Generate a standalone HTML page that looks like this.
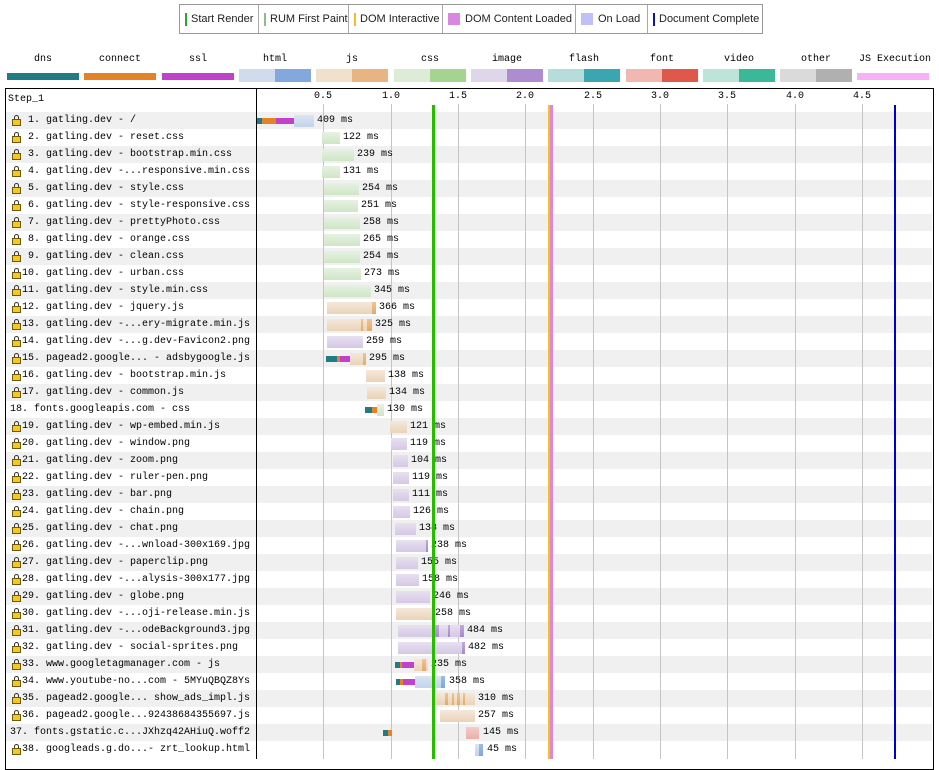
<!DOCTYPE html>
<html><head><meta charset="utf-8">
<style>
body{margin:0;width:939px;height:759px;background:#fff;position:relative;overflow:hidden;font-family:"Liberation Mono",monospace;font-size:10px;color:#000}
.abs{position:absolute}
.lg{position:absolute;top:4px;height:28px;border:1px solid #999;display:flex;font-family:"Liberation Sans",Arial,sans-serif;font-size:11px;color:#222}
.lg div{border-right:1px solid #aaa;padding:0 5px;line-height:28px;white-space:nowrap;display:flex;align-items:center;flex-shrink:0;box-sizing:border-box}
.lg div:last-child{border-right:none}
.mk{display:inline-block;width:2px;height:13px;margin-right:4px;flex-shrink:0}
.sq{display:inline-block;width:12px;height:12px;margin-right:5px;flex-shrink:0}
.tl{position:absolute;top:54px;width:72px;text-align:center}
.tb{position:absolute;top:69px;width:72px;height:13px}
.tbt{position:absolute;top:73px;width:72px;height:7px}
.row{position:absolute;left:6px;width:926px;height:17px}
.sh{background:#f0f0f0}
.nm{position:absolute;left:16px;top:0;line-height:17px;white-space:pre}
.nl{position:absolute;left:4px;top:0;line-height:17px;white-space:pre}
.lk{position:absolute;left:6px;top:3px;width:9px;height:10px}
.lk:before{content:"";position:absolute;left:2px;top:0;width:3px;height:4px;border:1.3px solid #333;border-bottom:none;border-radius:3px 3px 0 0}
.lk:after{content:"";position:absolute;left:0;top:4px;width:7px;height:5px;background:#f7c81c;border:1px solid #6a5a10}
.b{position:absolute;top:3px;height:12px}
.c{position:absolute;top:6px;height:6px}
.ms{position:absolute;top:0;line-height:17px;white-space:pre}
.dns{background:#1f7c83}.con{background:#e58226}.ssl{background:#c141cd}
.html{background:linear-gradient(#dbe5f2,#c3d3ea)}.htmld{background:linear-gradient(#9dbce8,#7ea6dc)}
.js{background:linear-gradient(#f5e8da,#ead3b8)}.jsd{background:linear-gradient(#f0c494,#e4a967)}
.css{background:linear-gradient(#e6f2e2,#cfe6c6)}.cssd{background:linear-gradient(#b8e0a8,#9acd84)}
.img{background:linear-gradient(#e8e0f0,#d5c8e6)}.imgd{background:linear-gradient(#c3a8dc,#a987cc)}
.fnt{background:linear-gradient(#f6cbc6,#eab0aa)}.fntd{background:linear-gradient(#ef7e70,#dc5040)}
.g{position:absolute;top:104px;width:1px;height:655px;background:#c4c4c4}
.tk{position:absolute;top:91px;width:40px;text-align:center;line-height:12px}
</style></head><body>

<div class="lg" style="left:179px;width:582px">
<div style="width:79px"><span class="mk" style="background:#28a828"></span>Start Render</div>
<div style="width:90px"><span class="mk" style="background:#88c088"></span>RUM First Paint</div>
<div style="width:94px"><span class="mk" style="background:#f0c020"></span>DOM Interactive</div>
<div style="width:133px"><span class="sq" style="background:#d888df"></span>DOM Content Loaded</div>
<div style="width:72px"><span class="sq" style="background:#c0c0f6"></span>On Load</div>
<div style="width:112px"><span class="mk" style="background:#1010b0"></span>Document Complete</div>
</div>

<div class="tl" style="left:7px">dns</div><div class="tbt dns" style="left:7px"></div>
<div class="tl" style="left:84px">connect</div><div class="tbt con" style="left:84px"></div>
<div class="tl" style="left:162px">ssl</div><div class="tbt ssl" style="left:162px"></div>
<div class="tl" style="left:239px">html</div><div class="tb" style="left:239px;background:linear-gradient(to right,#d0dcee 50%,#82a8de 50%)"></div>
<div class="tl" style="left:316px">js</div><div class="tb" style="left:316px;background:linear-gradient(to right,#f0e0cc 50%,#e8b482 50%)"></div>
<div class="tl" style="left:394px">css</div><div class="tb" style="left:394px;background:linear-gradient(to right,#dcecd6 50%,#a4d48f 50%)"></div>
<div class="tl" style="left:471px">image</div><div class="tb" style="left:471px;background:linear-gradient(to right,#e0d6ec 50%,#ad8ccf 50%)"></div>
<div class="tl" style="left:548px">flash</div><div class="tb" style="left:548px;background:linear-gradient(to right,#b6dcdc 50%,#3aa6b2 50%)"></div>
<div class="tl" style="left:626px">font</div><div class="tb" style="left:626px;background:linear-gradient(to right,#f0b8b0 50%,#e0584a 50%)"></div>
<div class="tl" style="left:703px">video</div><div class="tb" style="left:703px;background:linear-gradient(to right,#bce4d8 50%,#3ab898 50%)"></div>
<div class="tl" style="left:780px">other</div><div class="tb" style="left:780px;background:linear-gradient(to right,#dadada 50%,#b0b0b0 50%)"></div>
<div class="tl" style="left:857px;width:76px">JS Execution</div><div class="tbt" style="left:857px;background:#f8b0f6"></div>

<!-- table frame -->
<div class="abs" style="left:5px;top:88px;width:927px;height:680px;border:1px solid #000"></div>

<!-- rows -->
<div class="row sh" style="top:112px"><i class="lk"></i><span class="nm"> 1. gatling.dev - /</span></div>
<div class="row" style="top:129px"><i class="lk"></i><span class="nm"> 2. gatling.dev - reset.css</span></div>
<div class="row sh" style="top:146px"><i class="lk"></i><span class="nm"> 3. gatling.dev - bootstrap.min.css</span></div>
<div class="row" style="top:163px"><i class="lk"></i><span class="nm"> 4. gatling.dev -...responsive.min.css</span></div>
<div class="row sh" style="top:180px"><i class="lk"></i><span class="nm"> 5. gatling.dev - style.css</span></div>
<div class="row" style="top:197px"><i class="lk"></i><span class="nm"> 6. gatling.dev - style-responsive.css</span></div>
<div class="row sh" style="top:214px"><i class="lk"></i><span class="nm"> 7. gatling.dev - prettyPhoto.css</span></div>
<div class="row" style="top:231px"><i class="lk"></i><span class="nm"> 8. gatling.dev - orange.css</span></div>
<div class="row sh" style="top:248px"><i class="lk"></i><span class="nm"> 9. gatling.dev - clean.css</span></div>
<div class="row" style="top:265px"><i class="lk"></i><span class="nm">10. gatling.dev - urban.css</span></div>
<div class="row sh" style="top:282px"><i class="lk"></i><span class="nm">11. gatling.dev - style.min.css</span></div>
<div class="row" style="top:299px"><i class="lk"></i><span class="nm">12. gatling.dev - jquery.js</span></div>
<div class="row sh" style="top:316px"><i class="lk"></i><span class="nm">13. gatling.dev -...ery-migrate.min.js</span></div>
<div class="row" style="top:333px"><i class="lk"></i><span class="nm">14. gatling.dev -...g.dev-Favicon2.png</span></div>
<div class="row sh" style="top:350px"><i class="lk"></i><span class="nm">15. pagead2.google... - adsbygoogle.js</span></div>
<div class="row" style="top:367px"><i class="lk"></i><span class="nm">16. gatling.dev - bootstrap.min.js</span></div>
<div class="row sh" style="top:384px"><i class="lk"></i><span class="nm">17. gatling.dev - common.js</span></div>
<div class="row" style="top:401px"><span class="nl">18. fonts.googleapis.com - css</span></div>
<div class="row sh" style="top:418px"><i class="lk"></i><span class="nm">19. gatling.dev - wp-embed.min.js</span></div>
<div class="row" style="top:435px"><i class="lk"></i><span class="nm">20. gatling.dev - window.png</span></div>
<div class="row sh" style="top:452px"><i class="lk"></i><span class="nm">21. gatling.dev - zoom.png</span></div>
<div class="row" style="top:469px"><i class="lk"></i><span class="nm">22. gatling.dev - ruler-pen.png</span></div>
<div class="row sh" style="top:486px"><i class="lk"></i><span class="nm">23. gatling.dev - bar.png</span></div>
<div class="row" style="top:503px"><i class="lk"></i><span class="nm">24. gatling.dev - chain.png</span></div>
<div class="row sh" style="top:520px"><i class="lk"></i><span class="nm">25. gatling.dev - chat.png</span></div>
<div class="row" style="top:537px"><i class="lk"></i><span class="nm">26. gatling.dev -...wnload-300x169.jpg</span></div>
<div class="row sh" style="top:554px"><i class="lk"></i><span class="nm">27. gatling.dev - paperclip.png</span></div>
<div class="row" style="top:571px"><i class="lk"></i><span class="nm">28. gatling.dev -...alysis-300x177.jpg</span></div>
<div class="row sh" style="top:588px"><i class="lk"></i><span class="nm">29. gatling.dev - globe.png</span></div>
<div class="row" style="top:605px"><i class="lk"></i><span class="nm">30. gatling.dev -...oji-release.min.js</span></div>
<div class="row sh" style="top:622px"><i class="lk"></i><span class="nm">31. gatling.dev -...odeBackground3.jpg</span></div>
<div class="row" style="top:639px"><i class="lk"></i><span class="nm">32. gatling.dev - social-sprites.png</span></div>
<div class="row sh" style="top:656px"><i class="lk"></i><span class="nm">33. www.googletagmanager.com - js</span></div>
<div class="row" style="top:673px"><i class="lk"></i><span class="nm">34. www.youtube-no...com - 5MYuQBQZ8Ys</span></div>
<div class="row sh" style="top:690px"><i class="lk"></i><span class="nm">35. pagead2.google... show_ads_impl.js</span></div>
<div class="row" style="top:707px"><i class="lk"></i><span class="nm">36. pagead2.google...92438684355697.js</span></div>
<div class="row sh" style="top:724px"><span class="nl">37. fonts.gstatic.c...JXhzq42AHiuQ.woff2</span></div>
<div class="row" style="top:741px"><i class="lk"></i><span class="nm">38. googleads.g.do...- zrt_lookup.html</span></div>

<!-- divider -->
<div class="abs" style="left:256px;top:88px;width:1px;height:671px;background:#000"></div>
<div class="abs" style="left:8px;top:94px;line-height:12px">Step_1</div>

<!-- grid -->
<div class="g" style="left:323px"></div><div class="tk" style="left:303px">0.5</div>
<div class="g" style="left:391px"></div><div class="tk" style="left:371px">1.0</div>
<div class="g" style="left:458px"></div><div class="tk" style="left:438px">1.5</div>
<div class="g" style="left:525px"></div><div class="tk" style="left:505px">2.0</div>
<div class="g" style="left:593px"></div><div class="tk" style="left:573px">2.5</div>
<div class="g" style="left:660px"></div><div class="tk" style="left:640px">3.0</div>
<div class="g" style="left:727px"></div><div class="tk" style="left:707px">3.5</div>
<div class="g" style="left:795px"></div><div class="tk" style="left:775px">4.0</div>
<div class="g" style="left:862px"></div><div class="tk" style="left:842px">4.5</div>

<!-- bars (absolute coords) -->
<div class="abs" style="left:0;top:0">
<i class="c dns" style="left:257px;top:118px;width:5px"></i><i class="c con" style="left:262px;top:118px;width:14px"></i><i class="c ssl" style="left:276px;top:118px;width:18px"></i><i class="b html" style="left:294px;top:115px;width:20px"></i><span class="ms" style="left:317px;top:112px">409 ms</span>
<i class="b css" style="left:322px;top:132px;width:18px"></i><span class="ms" style="left:343px;top:129px">122 ms</span>
<i class="b css" style="left:322px;top:149px;width:32px"></i><span class="ms" style="left:357px;top:146px">239 ms</span>
<i class="b css" style="left:322px;top:166px;width:18px"></i><span class="ms" style="left:343px;top:163px">131 ms</span>
<i class="b css" style="left:324px;top:183px;width:35px"></i><span class="ms" style="left:362px;top:180px">254 ms</span>
<i class="b css" style="left:324px;top:200px;width:34px"></i><span class="ms" style="left:361px;top:197px">251 ms</span>
<i class="b css" style="left:324px;top:217px;width:36px"></i><span class="ms" style="left:363px;top:214px">258 ms</span>
<i class="b css" style="left:324px;top:234px;width:36px"></i><span class="ms" style="left:363px;top:231px">265 ms</span>
<i class="b css" style="left:324px;top:251px;width:36px"></i><span class="ms" style="left:363px;top:248px">254 ms</span>
<i class="b css" style="left:324px;top:268px;width:37px"></i><span class="ms" style="left:364px;top:265px">273 ms</span>
<i class="b css" style="left:324px;top:285px;width:47px"></i><span class="ms" style="left:374px;top:282px">345 ms</span>
<i class="b js" style="left:327px;top:302px;width:49px"></i><i class="b jsd" style="left:372px;top:302px;width:4px"></i><span class="ms" style="left:379px;top:299px">366 ms</span>
<i class="b js" style="left:327px;top:319px;width:45px"></i><i class="b jsd" style="left:361px;top:319px;width:2px"></i><i class="b jsd" style="left:367px;top:319px;width:5px"></i><span class="ms" style="left:375px;top:316px">325 ms</span>
<i class="b img" style="left:327px;top:336px;width:36px"></i><span class="ms" style="left:366px;top:333px">259 ms</span>
<i class="c dns" style="left:326px;top:356px;width:11px"></i><i class="c con" style="left:337px;top:356px;width:3px"></i><i class="c ssl" style="left:340px;top:356px;width:10px"></i><i class="b js" style="left:350px;top:353px;width:16px"></i><i class="b jsd" style="left:363px;top:353px;width:3px"></i><span class="ms" style="left:369px;top:350px">295 ms</span>
<i class="b js" style="left:366px;top:370px;width:19px"></i><span class="ms" style="left:388px;top:367px">138 ms</span>
<i class="b js" style="left:367px;top:387px;width:19px"></i><span class="ms" style="left:389px;top:384px">134 ms</span>
<i class="c dns" style="left:365px;top:407px;width:7px"></i><i class="c con" style="left:372px;top:407px;width:5px"></i><i class="b css" style="left:377px;top:404px;width:7px"></i><span class="ms" style="left:387px;top:401px">130 ms</span>
<i class="b js" style="left:390px;top:421px;width:17px"></i><span class="ms" style="left:410px;top:418px">121 ms</span>
<i class="b img" style="left:391px;top:438px;width:16px"></i><span class="ms" style="left:410px;top:435px">119 ms</span>
<i class="b img" style="left:393px;top:455px;width:15px"></i><span class="ms" style="left:411px;top:452px">104 ms</span>
<i class="b img" style="left:393px;top:472px;width:16px"></i><span class="ms" style="left:412px;top:469px">119 ms</span>
<i class="b img" style="left:393px;top:489px;width:16px"></i><span class="ms" style="left:412px;top:486px">111 ms</span>
<i class="b img" style="left:393px;top:506px;width:17px"></i><span class="ms" style="left:413px;top:503px">126 ms</span>
<i class="b img" style="left:395px;top:523px;width:21px"></i><span class="ms" style="left:419px;top:520px">138 ms</span>
<i class="b img" style="left:396px;top:540px;width:32px"></i><i class="b imgd" style="left:426px;top:540px;width:2px"></i><span class="ms" style="left:431px;top:537px">238 ms</span>
<i class="b img" style="left:396px;top:557px;width:22px"></i><span class="ms" style="left:421px;top:554px">155 ms</span>
<i class="b img" style="left:396px;top:574px;width:23px"></i><span class="ms" style="left:422px;top:571px">158 ms</span>
<i class="b img" style="left:396px;top:591px;width:34px"></i><span class="ms" style="left:433px;top:588px">246 ms</span>
<i class="b js" style="left:396px;top:608px;width:36px"></i><span class="ms" style="left:435px;top:605px">258 ms</span>
<i class="b img" style="left:398px;top:625px;width:66px"></i><i class="b imgd" style="left:434px;top:625px;width:5px"></i><i class="b imgd" style="left:448px;top:625px;width:2px"></i><i class="b imgd" style="left:460px;top:625px;width:4px"></i><span class="ms" style="left:467px;top:622px">484 ms</span>
<i class="b img" style="left:398px;top:642px;width:67px"></i><i class="b imgd" style="left:462px;top:642px;width:3px"></i><span class="ms" style="left:468px;top:639px">482 ms</span>
<i class="c dns" style="left:395px;top:662px;width:5px"></i><i class="c con" style="left:400px;top:662px;width:2px"></i><i class="c ssl" style="left:402px;top:662px;width:12px"></i><i class="b js" style="left:414px;top:659px;width:14px"></i><i class="b jsd" style="left:422px;top:659px;width:4px"></i><span class="ms" style="left:431px;top:656px">235 ms</span>
<i class="c dns" style="left:396px;top:679px;width:4px"></i><i class="c con" style="left:400px;top:679px;width:3px"></i><i class="c ssl" style="left:403px;top:679px;width:12px"></i><i class="b html" style="left:415px;top:676px;width:30px"></i><i class="b htmld" style="left:441px;top:676px;width:4px"></i><span class="ms" style="left:449px;top:673px">358 ms</span>
<i class="b js" style="left:432px;top:693px;width:43px"></i><i class="b jsd" style="left:445px;top:693px;width:3px"></i><i class="b jsd" style="left:452px;top:693px;width:2px"></i><i class="b jsd" style="left:457px;top:693px;width:3px"></i><i class="b jsd" style="left:463px;top:693px;width:2px"></i><span class="ms" style="left:478px;top:690px">310 ms</span>
<i class="b js" style="left:440px;top:710px;width:35px"></i><span class="ms" style="left:478px;top:707px">257 ms</span>
<i class="c dns" style="left:383px;top:730px;width:5px"></i><i class="c con" style="left:388px;top:730px;width:4px"></i><i class="b fnt" style="left:466px;top:727px;width:13px"></i><span class="ms" style="left:483px;top:724px">145 ms</span>
<i class="b html" style="left:475px;top:744px;width:8px"></i><i class="b htmld" style="left:479px;top:744px;width:4px"></i><span class="ms" style="left:487px;top:741px">45 ms</span>
</div>

<!-- event lines -->
<div class="abs" style="left:432px;top:105px;width:3px;height:654px;background:#28bc00"></div>
<div class="abs" style="left:548px;top:105px;width:2px;height:654px;background:#f5c11a"></div>
<div class="abs" style="left:550px;top:105px;width:3px;height:654px;background:#d888df"></div>
<div class="abs" style="left:894px;top:105px;width:2px;height:654px;background:#0000cc"></div>
</body></html>
